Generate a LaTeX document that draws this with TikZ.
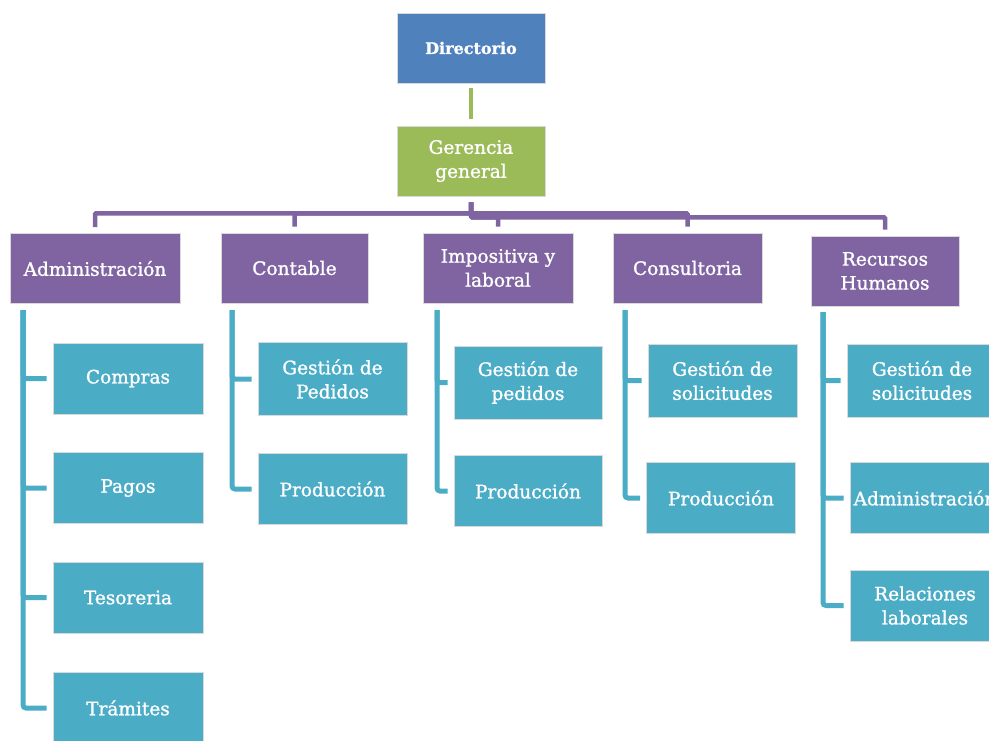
\documentclass[tikz,border=0pt]{standalone}
\usepackage{fontspec}
\setmainfont{DejaVu Serif}
\newfontfamily\orgfont{DejaVu Serif}[FakeBold=1.2]
\usetikzlibrary{calc}
\definecolor{dirblue}{HTML}{4F81BD}
\definecolor{gergreen}{HTML}{9BBB59}
\definecolor{deptpurple}{HTML}{8064A2}
\definecolor{unitteal}{HTML}{4BACC6}
\tikzset{
  orgbox/.style={rectangle, draw=white!85!black, line width=0.6pt, text=white,
    align=center, inner sep=2pt, minimum height=70pt,
    font=\orgfont\fontsize{18.5}{24}\selectfont},
  topbox/.style={orgbox, fill=dirblue, minimum width=148pt,
    font=\orgfont\fontsize{16}{18}\selectfont\bfseries},
  midbox/.style={orgbox, fill=gergreen, minimum width=148pt},
  deptbox/.style={orgbox, fill=deptpurple},
  unitbox/.style={orgbox, fill=unitteal, minimum width=150pt, minimum height=71pt},
  greenlink/.style={draw=gergreen, line width=4.5pt, shorten <=5pt, shorten >=7pt},
  purplelink/.style={draw=deptpurple, line width=4.5pt, rounded corners=1pt,
    shorten <=6pt, shorten >=6pt},
  teallink/.style={draw=unitteal, line width=5pt, rounded corners=3pt, shorten >=6pt},
}
\begin{document}
\begin{tikzpicture}[x=1pt, y=1pt]
  \path[use as bounding box, clip] (0,0) rectangle (989,-740);

  % top of the chart
  \node[topbox] (dir) at (471,-48) {Directorio};
  \node[midbox] (ger) at (471,-161) {Gerencia\\general};

  % departments
  \node[deptbox, minimum width=170pt] (adm) at (95,-268.5) {Administración};
  \node[deptbox, minimum width=147pt] (con) at (294.5,-268) {Contable};
  \node[deptbox, minimum width=150pt] (imp) at (498,-268) {Impositiva y\\laboral};
  \node[deptbox, minimum width=149pt] (cons) at (687.5,-268) {Consultoria};
  \node[deptbox, minimum width=148pt] (rrhh) at (885,-271) {Recursos\\Humanos};

  % units of Administración
  \node[unitbox] (compras) at (128,-378.5) {Compras};
  \node[unitbox] (pagos) at (128,-488) {Pagos};
  \node[unitbox] (teso) at (128,-597.5) {Tesoreria};
  \node[unitbox] (tram) at (128,-708) {Trámites};

  % units of Contable
  \node[unitbox, minimum width=149pt, minimum height=73pt] (conped) at (332.5,-379) {Gestión de\\Pedidos};
  \node[unitbox, minimum width=149pt] (conprod) at (332.5,-489) {Producción};

  % units of Impositiva y laboral
  \node[unitbox, minimum width=148pt, minimum height=73pt] (impped) at (528,-382.5) {Gestión de\\pedidos};
  \node[unitbox, minimum width=148pt] (impprod) at (528,-491) {Producción};

  % units of Consultoria
  \node[unitbox, minimum width=149pt, minimum height=73pt] (conssol) at (722.5,-380.5) {Gestión de\\solicitudes};
  \node[unitbox, minimum width=149pt] (consprod) at (721,-498) {Producción};

  % units of Recursos Humanos
  \node[unitbox, minimum height=73pt] (rhsol) at (922,-380.5) {Gestión de\\solicitudes};
  \node[unitbox] (rhadm) at (925,-498) {Administración};
  \node[unitbox] (rhrel) at (925,-605.5) {Relaciones\\laborales};

  % Directorio to Gerencia
  \draw[greenlink] (dir.south) -- (ger.north);

  % Gerencia to the departments
  \draw[purplelink] (ger.south) -- ++(0,-17) -| (adm.north);
  \draw[purplelink] (ger.south) -- ++(0,-17) -| (con.north);
  \draw[purplelink] (ger.south) -- ++(0,-21) -| (imp.north);
  \draw[purplelink] (ger.south) -- ++(0,-17) -| (cons.north);
  \draw[purplelink] (ger.south) -- ++(0,-21) -| (rrhh.north);

  % tops of the unit spines
  \coordinate (admspine) at (23,-310);
  \coordinate (conspine) at (232,-310);
  \coordinate (impspine) at (437,-310);
  \coordinate (consspine) at (625,-310);
  \coordinate (rhspine) at (823,-312);

  \draw[teallink] (admspine) |- (compras.west);
  \draw[teallink] (admspine) |- (pagos.west);
  \draw[teallink] (admspine) |- (teso.west);
  \draw[teallink] (admspine) |- (tram.west);

  \draw[teallink] (conspine) |- (conped.west);
  \draw[teallink] (conspine) |- (conprod.west);

  \draw[teallink] (impspine) |- (impped.west);
  \draw[teallink] (impspine) |- (impprod.west);

  \draw[teallink] (consspine) |- (conssol.west);
  \draw[teallink] (consspine) |- (consprod.west);

  \draw[teallink] (rhspine) |- (rhsol.west);
  \draw[teallink] (rhspine) |- (rhadm.west);
  \draw[teallink] (rhspine) |- (rhrel.west);
\end{tikzpicture}
\end{document}
